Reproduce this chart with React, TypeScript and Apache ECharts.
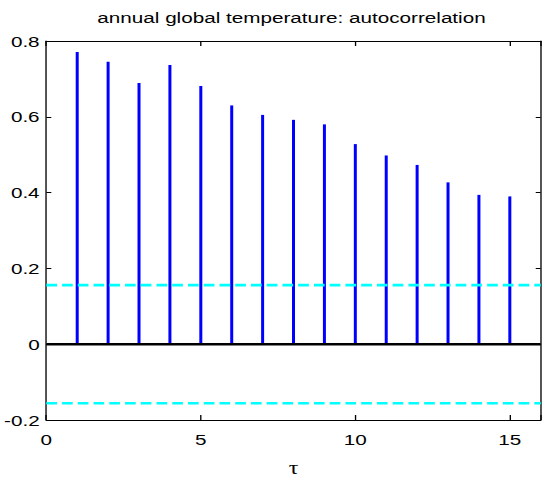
import React, { useEffect, useRef } from "react";
import * as echarts from "echarts";

// Lags and sample autocorrelation of the annual global temperature series
const lags = [1, 2, 3, 4, 5, 6, 7, 8, 9, 10, 11, 12, 13, 14, 15];
const acf = [
  0.771, 0.745, 0.689, 0.737, 0.681, 0.63, 0.605, 0.592, 0.58, 0.528, 0.498,
  0.473, 0.427, 0.394, 0.39,
];
// 95% significance band (±1.96/√N)
const confBound = [0.156, -0.156];
const xRange = [0, 16];
const yRange = [-0.2, 0.8];

// The figure is drawn narrow and widened horizontally, like a stretched MATLAB figure
const FIG_W = 547;
const FIG_H = 484;
const BASE_W = 410;
const STRETCH = FIG_W / BASE_W;

const FONT = "'Liberation Sans', Arial, Helvetica, sans-serif";

export default function App() {
  const ref = useRef<HTMLDivElement>(null);

  useEffect(() => {
    if (!ref.current) return;
    const chart = echarts.init(ref.current, undefined, { renderer: "svg" });

    const axisCommon = {
      type: "value" as const,
      axisLine: { show: true, onZero: false, lineStyle: { color: "#000", width: 1 } },
      splitLine: { show: false },
    };

    const stems = lags.map((l, i) => [l, acf[i]]);
    const hLine = (y: number) => [
      [xRange[0], y],
      [xRange[1], y],
    ];

    chart.setOption({
      animation: false,
      backgroundColor: "#fff",
      title: {
        text: "annual global temperature: autocorrelation",
        left: 213.5,
        textAlign: "center",
        top: 4,
        textStyle: {
          fontFamily: FONT,
          fontSize: 15.5,
          fontWeight: "normal",
          color: "#000",
        },
      },
      grid: { left: 33.2, right: 4.7, top: 41, bottom: 64 },
      xAxis: [
        {
          ...axisCommon,
          position: "bottom",
          min: xRange[0],
          max: xRange[1],
          interval: 5,
          axisTick: { inside: true, length: 5, lineStyle: { color: "#000" } },
          axisLabel: {
            margin: 11,
            fontFamily: FONT,
            fontSize: 15.5,
            color: "#000",
            formatter: (v: number) => (v % 5 === 0 ? String(v) : ""),
          },
          name: "τ",
          nameLocation: "middle",
          nameGap: 39,
          nameTextStyle: {
            fontFamily: "'Liberation Serif', 'Times New Roman', serif",
            fontSize: 18,
            color: "#000",
          },
        },
        {
          ...axisCommon,
          position: "top",
          min: xRange[0],
          max: xRange[1],
          interval: 5,
          axisTick: { inside: true, length: 5, lineStyle: { color: "#000" } },
          axisLabel: { show: false },
        },
      ],
      yAxis: [
        {
          ...axisCommon,
          position: "left",
          min: yRange[0],
          max: yRange[1],
          interval: 0.2,
          axisTick: { inside: true, length: 3.75, lineStyle: { color: "#000" } },
          axisLabel: {
            margin: 5,
            fontFamily: FONT,
            fontSize: 15.5,
            color: "#000",
          },
        },
        {
          ...axisCommon,
          position: "right",
          min: yRange[0],
          max: yRange[1],
          interval: 0.2,
          axisTick: { inside: true, length: 3.75, lineStyle: { color: "#000" } },
          axisLabel: { show: false },
        },
      ],
      series: [
        {
          type: "bar",
          xAxisIndex: 0,
          yAxisIndex: 0,
          data: stems,
          barWidth: 2.25,
          itemStyle: { color: "#0000ff" },
          z: 2,
        },
        {
          type: "line",
          xAxisIndex: 0,
          yAxisIndex: 0,
          data: hLine(0),
          symbol: "none",
          lineStyle: { color: "#000", width: 2.6 },
          z: 3,
        },
        ...confBound.map((c) => ({
          type: "line",
          xAxisIndex: 0,
          yAxisIndex: 0,
          data: hLine(c),
          symbol: "none",
          lineStyle: { color: "#00ffff", width: 2.6, type: [8, 3.8] },
          z: 4,
        })),
      ],
    });

    return () => chart.dispose();
  }, []);

  return (
    <div
      style={{
        position: "absolute",
        left: 0,
        top: 0,
        width: FIG_W,
        height: FIG_H,
        overflow: "hidden",
        background: "#fff",
      }}
    >
      <div
        ref={ref}
        style={{
          width: BASE_W,
          height: FIG_H,
          transform: `scaleX(${STRETCH})`,
          transformOrigin: "0 0",
        }}
      />
    </div>
  );
}
